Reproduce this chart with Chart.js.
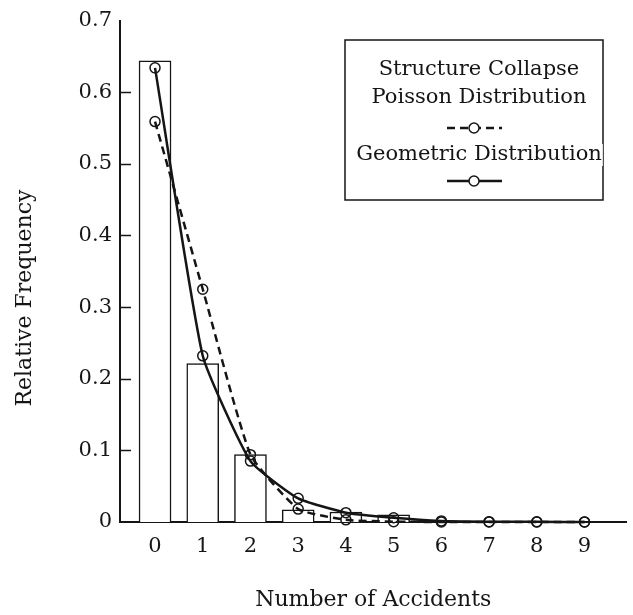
<!DOCTYPE html>
<html>
<head>
<meta charset="utf-8">
<script src="https://cdn.jsdelivr.net/npm/chart.js@4"></script>
<style>
  html, body { margin: 0; padding: 0; background: #fff; }
  canvas { display: block; }
</style>
</head>
<body>
<canvas id="c" width="633" height="615"></canvas>
<script>
// Number of accidents (x categories) and y tick labels
const accidents = ['0', '1', '2', '3', '4', '5', '6', '7', '8', '9'];
const yTickLabels = ['0', '0.1', '0.2', '0.3', '0.4', '0.5', '0.6', '0.7'];

// Observed relative frequencies and fitted distributions
const structureCollapse = [0.644, 0.221, 0.094, 0.017, 0.014, 0.010, 0, 0, 0, 0];
const poisson   = [0.559, 0.325, 0.094, 0.018, 0.003, 0.0005, 0, 0, 0, 0];
const geometric = [0.634, 0.232, 0.085, 0.033, 0.013, 0.006, 0.0015, 0.0005, 0.0002, 0.0001];

const INK = '#151515';
const SERIF = '"DejaVu Serif", serif';

const toXY = arr => arr.map((v, i) => ({ x: i, y: v }));

// Inward tick marks on the y axis
const innerTicks = {
  id: 'innerTicks',
  afterDatasetsDraw(chart) {
    const { ctx, chartArea, scales } = chart;
    const y = scales.y;
    ctx.save();
    ctx.strokeStyle = INK;
    ctx.lineWidth = 1.5;
    y.ticks.forEach(t => {
      if (t.value <= y.min || t.value >= y.max) return;
      const py = Math.round(y.getPixelForValue(t.value)) + 0.5;
      ctx.beginPath();
      ctx.moveTo(chartArea.left, py);
      ctx.lineTo(chartArea.left + 11, py);
      ctx.stroke();
    });
    ctx.restore();
  }
};

// Rotated y axis title
const yTitle = {
  id: 'yTitle',
  afterDraw(chart) {
    const { ctx } = chart;
    ctx.save();
    ctx.translate(25, 298);
    ctx.rotate(-Math.PI / 2);
    ctx.fillStyle = INK;
    ctx.font = '22px ' + SERIF;
    ctx.textAlign = 'center';
    ctx.textBaseline = 'middle';
    ctx.fillText('Relative Frequency', 0, 0);
    ctx.restore();
  }
};

// Boxed legend: data title, then each fitted distribution with its line sample
const boxLegend = {
  id: 'boxLegend',
  afterDraw(chart) {
    const { ctx } = chart;
    const ds = chart.data.datasets;
    const box = { left: 345, top: 40, right: 603, bottom: 200 };
    const cx = 479;
    ctx.save();
    ctx.strokeStyle = INK;
    ctx.lineWidth = 1.5;
    ctx.strokeRect(box.left, box.top, box.right - box.left, box.bottom - box.top);

    ctx.font = '21px ' + SERIF;
    ctx.textAlign = 'center';
    ctx.textBaseline = 'middle';
    const text = (s, y) => {
      const w = ctx.measureText(s).width;
      ctx.fillStyle = '#fff';
      ctx.fillRect(cx - w / 2 - 1, y - 11, w + 2, 22);
      ctx.fillStyle = INK;
      ctx.fillText(s, cx, y);
    };
    const sample = (d, y) => {
      const x0 = 447, x1 = 502, xm = 474;
      ctx.save();
      ctx.strokeStyle = d.borderColor;
      ctx.lineWidth = d.borderWidth;
      ctx.setLineDash(d.borderDash || []);
      ctx.beginPath();
      ctx.moveTo(x0, y);
      ctx.lineTo(x1, y);
      ctx.stroke();
      ctx.setLineDash([]);
      ctx.lineWidth = d.pointBorderWidth;
      ctx.fillStyle = '#fff';
      ctx.beginPath();
      ctx.arc(xm, y, d.pointRadius, 0, Math.PI * 2);
      ctx.fill();
      ctx.stroke();
      ctx.restore();
    };
    text(ds[0].label, 70);
    text(ds[1].label, 98);
    sample(ds[1], 128);
    text(ds[2].label, 155);
    sample(ds[2], 181);
    ctx.restore();
  }
};

new Chart(document.getElementById('c'), {
  type: 'bar',
  data: {
    datasets: [
      {
        type: 'bar',
        label: 'Structure Collapse',
        data: toXY(structureCollapse),
        backgroundColor: '#fff',
        borderColor: INK,
        borderWidth: 1.5,
        barThickness: 32,
        order: 3
      },
      {
        type: 'line',
        label: 'Poisson Distribution',
        data: toXY(poisson),
        borderColor: INK,
        borderWidth: 2.5,
        borderDash: [8, 5],
        tension: 0.15,
        pointRadius: 5,
        pointBorderWidth: 1.5,
        pointBackgroundColor: 'rgba(0,0,0,0)',
        pointBorderColor: INK,
        fill: false,
        clip: false,
        order: 2
      },
      {
        type: 'line',
        label: 'Geometric Distribution',
        data: toXY(geometric),
        borderColor: INK,
        borderWidth: 2.5,
        tension: 0.15,
        pointRadius: 5,
        pointBorderWidth: 1.5,
        pointBackgroundColor: 'rgba(0,0,0,0)',
        pointBorderColor: INK,
        fill: false,
        clip: false,
        order: 1
      }
    ]
  },
  options: {
    responsive: false,
    animation: false,
    devicePixelRatio: 1,
    layout: { padding: { top: 15, right: 1, left: 0, bottom: 0 } },
    plugins: {
      legend: { display: false },
      tooltip: { enabled: false }
    },
    scales: {
      x: {
        type: 'linear',
        offset: false,
        min: -0.734,
        max: 9.88,
        afterBuildTicks: s => { s.ticks = accidents.map((_, i) => ({ value: i })); },
        afterFit: s => { s.height = 93; },
        ticks: {
          padding: 12,
          color: INK,
          font: { family: SERIF, size: 21 },
          callback: v => accidents[Math.round(v)]
        },
        grid: { display: false, drawTicks: false },
        border: { display: true, color: INK, width: 2 },
        title: {
          display: true,
          text: 'Number of Accidents',
          color: INK,
          font: { family: SERIF, size: 22 },
          padding: { top: 0, bottom: 2 }
        }
      },
      y: {
        min: 0,
        max: 0.7,
        afterBuildTicks: s => { s.ticks = yTickLabels.map(t => ({ value: parseFloat(t) })); },
        afterFit: s => { s.width = 120; },
        ticks: {
          padding: 8,
          color: INK,
          font: { family: SERIF, size: 21 },
          callback: (v, i) => yTickLabels[i]
        },
        grid: { display: false, drawTicks: false },
        border: { display: true, color: INK, width: 2 }
      }
    }
  },
  plugins: [innerTicks, yTitle, boxLegend]
});
</script>
</body>
</html>
